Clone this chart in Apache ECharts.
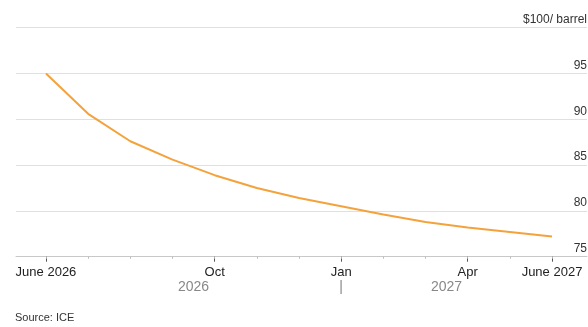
<!DOCTYPE html>
<html lang="en">
<head>
    <meta charset="UTF-8">
    <title>Brent futures curve</title>
    <script src="https://cdn.jsdelivr.net/npm/echarts@6/dist/echarts.min.js"></script>
    <style>
        body { margin: 0; background: #fff; }
    </style>
</head>
<body>
    <div id="main" style="width: 588px; height: 327px;"></div>
    <script>
        // monthly contracts, June 2026 -> June 2027 (index 0..12)
        const months = ['2026-06', '2026-07', '2026-08', '2026-09', '2026-10', '2026-11', '2026-12',
            '2027-01', '2027-02', '2027-03', '2027-04', '2027-05', '2027-06'];
        const prices = [95.0, 90.6, 87.6, 85.6, 83.9, 82.5, 81.4, 80.5, 79.6, 78.8, 78.2, 77.7, 77.2];

        // x axis labels
        const majorTicks = [0, 4, 7, 10, 12];
        const majorLabels = ['June 2026', 'Oct', 'Jan', 'Apr', 'June 2027'];
        const yearPos = [3.5, 7, 9.5];
        const yearLabels = ['2026', '|', '2027'];

        // y axis
        const yTicks = [75, 80, 85, 90, 95, 100];
        const yLabels = ['75', '80', '85', '90', '95', '$100/ barrel'];

        const font = '"Liberation Sans", Arial, sans-serif';
        const monthIdx = months.map((m, i) => i);

        var myChart = echarts.init(document.getElementById('main'));
        let option = {
            animation: false,
            title: {
                text: 'Source: ICE',
                left: 15,
                top: 312,
                padding: 0,
                textStyle: { fontFamily: font, fontSize: 11, fontWeight: 'normal', color: '#333' }
            },
            grid: { left: 16, right: 1, top: 27.7, bottom: 70.3, outerBoundsMode: 'none' },
            xAxis: [
                {
                    type: 'value',
                    position: 'bottom',
                    min: -0.711,
                    max: 12.83,
                    splitLine: { show: false },
                    axisLine: { lineStyle: { color: '#c8c8c8', width: 1 } },
                    axisTick: {
                        customValues: majorTicks,
                        length: 5,
                        lineStyle: { color: '#555', width: 1 }
                    },
                    axisLabel: {
                        customValues: majorTicks,
                        margin: 9,
                        fontFamily: font,
                        fontSize: 13,
                        color: '#222',
                        formatter: v => majorLabels[majorTicks.indexOf(v)] || ''
                    }
                },
                {
                    type: 'value',
                    position: 'bottom',
                    min: -0.711,
                    max: 12.83,
                    splitLine: { show: false },
                    axisLine: { show: false },
                    axisTick: {
                        customValues: monthIdx,
                        length: 2,
                        lineStyle: { color: '#bbb', width: 1 }
                    },
                    axisLabel: {
                        customValues: yearPos,
                        margin: 23,
                        fontFamily: font,
                        fontSize: 14,
                        color: '#888',
                        formatter: v => yearLabels[yearPos.indexOf(v)] || ''
                    }
                }
            ],
            yAxis: {
                type: 'value',
                position: 'right',
                min: 75,
                max: 100,
                interval: 5,
                axisLine: { show: false },
                axisTick: { show: false },
                splitLine: { lineStyle: { color: '#e0e0e0', width: 1.2 } },
                axisLabel: {
                    inside: true,
                    margin: 0,
                    verticalAlign: 'bottom',
                    padding: [0, 0, 2, 0],
                    fontFamily: font,
                    fontSize: 12,
                    color: '#333',
                    formatter: v => yLabels[yTicks.indexOf(v)]
                }
            },
            series: [
                {
                    type: 'line',
                    data: prices.map((p, i) => [monthIdx[i], p]),
                    showSymbol: false,
                    lineStyle: { color: '#f4a23c', width: 2 },
                    xAxisIndex: 0
                }
            ]
        };
        myChart.setOption(option);
    </script>
</body>
</html>
